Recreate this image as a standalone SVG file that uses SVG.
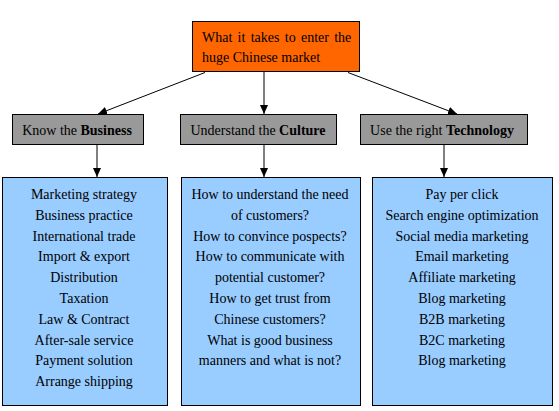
<svg xmlns="http://www.w3.org/2000/svg" width="559" height="411" viewBox="0 0 559 411">
<style>
text{font-family:"Liberation Serif","Times New Roman",serif;font-size:14px;fill:#000}
.c{text-anchor:middle}
.b{font-weight:bold}
.box{stroke:#000;stroke-width:1}
.root{fill:#ff6600}
.cat{fill:#999999}
.list{fill:#99ccff}
.con{stroke:#000;stroke-width:1;fill:none;marker-end:url(#ah)}
</style>
<defs>
<marker id="ah" markerUnits="userSpaceOnUse" markerWidth="10" markerHeight="10" refX="9" refY="4" orient="auto">
<path d="M0,0 L9,4 L0,8 Z" fill="#000"/>
</marker>
</defs>
<rect width="559" height="411" fill="#fff"/>
<g id="connectors">
<line class="con" x1="264" y1="72" x2="264" y2="114"/>
<line class="con" x1="205" y1="72.5" x2="98" y2="114"/>
<line class="con" x1="348" y1="72.5" x2="457" y2="114"/>
<line class="con" x1="97" y1="145" x2="97" y2="177"/>
<line class="con" x1="264" y1="145" x2="264" y2="177"/>
<line class="con" x1="444" y1="145" x2="444" y2="177"/>
</g>
<g id="root">
<rect class="box root" x="192.5" y="21.5" width="167" height="50"/>
<text x="202" y="42" word-spacing="1.8">What it takes to enter the</text>
<text x="202" y="62">huge Chinese market</text>
</g>
<g id="business">
<rect class="box cat" x="12.5" y="114.5" width="131" height="30"/>
<text class="c" x="77" y="135">Know the <tspan class="b">Business</tspan></text>
</g>
<g id="culture">
<rect class="box cat" x="180.5" y="114.5" width="156" height="30"/>
<text class="c" x="258" y="135">Understand the <tspan class="b">Culture</tspan></text>
</g>
<g id="technology">
<rect class="box cat" x="360.5" y="114.5" width="167" height="30"/>
<text class="c" x="442" y="135">Use the right <tspan class="b">Technology</tspan></text>
</g>
<g id="business-list">
<rect class="box list" x="2.5" y="177.5" width="165" height="228"/>
<text class="c" x="84" y="199">Marketing strategy</text>
<text class="c" x="84" y="219.8">Business practice</text>
<text class="c" x="84" y="240.6">International trade</text>
<text class="c" x="84" y="261.4">Import &amp; export</text>
<text class="c" x="84" y="282.2">Distribution</text>
<text class="c" x="84" y="303">Taxation</text>
<text class="c" x="84" y="323.8">Law &amp; Contract</text>
<text class="c" x="84" y="344.6">After-sale service</text>
<text class="c" x="84" y="365.4">Payment solution</text>
<text class="c" x="84" y="386.2">Arrange shipping</text>
</g>
<g id="culture-list">
<rect class="box list" x="181.5" y="177.5" width="179" height="228"/>
<text class="c" x="270" y="199">How to understand the need</text>
<text class="c" x="270" y="219.8">of customers?</text>
<text class="c" x="270" y="240.6">How to convince pospects?</text>
<text class="c" x="270" y="261.4">How to communicate with</text>
<text class="c" x="270" y="282.2">potential customer?</text>
<text class="c" x="270" y="303">How to get trust from</text>
<text class="c" x="270" y="323.8">Chinese customers?</text>
<text class="c" x="270" y="344.6">What is good business</text>
<text class="c" x="270" y="365.4">manners and what is not?</text>
</g>
<g id="technology-list">
<rect class="box list" x="372.5" y="177.5" width="180" height="228"/>
<text class="c" x="462" y="199">Pay per click</text>
<text class="c" x="462" y="219.8">Search engine optimization</text>
<text class="c" x="462" y="240.6">Social media marketing</text>
<text class="c" x="462" y="261.4">Email marketing</text>
<text class="c" x="462" y="282.2">Affiliate marketing</text>
<text class="c" x="462" y="303">Blog marketing</text>
<text class="c" x="462" y="323.8">B2B marketing</text>
<text class="c" x="462" y="344.6">B2C marketing</text>
<text class="c" x="462" y="365.4">Blog marketing</text>
</g>
</svg>
